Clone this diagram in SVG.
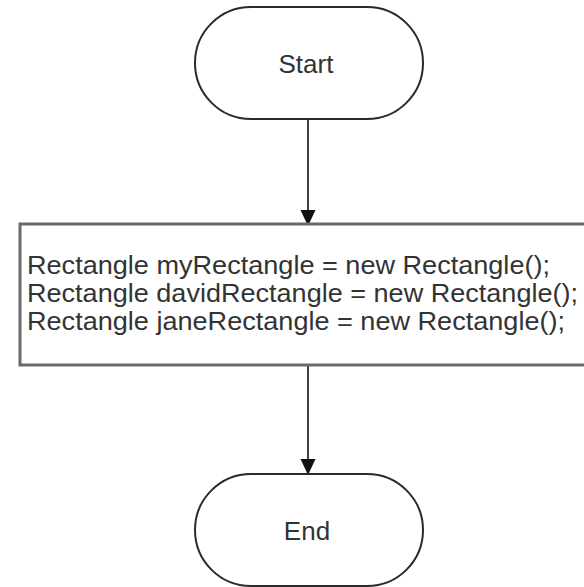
<svg xmlns="http://www.w3.org/2000/svg" width="584" height="587" viewBox="0 0 584 587">
  <style>
    .term { fill: #ffffff; stroke: #2a2a2a; stroke-width: 2; }
    .proc { fill: #ffffff; stroke: #6a6a6a; stroke-width: 3; }
    .label { font-family: "Liberation Sans", Arial, sans-serif; fill: #333333; }
    .term-label { font-size: 26px; }
    .code { font-size: 25px; }
    .edge { stroke: #111111; stroke-width: 1.6; fill: none; }
  </style>
  <defs>
    <marker id="arrow" markerWidth="16" markerHeight="16" refX="15" refY="7.5" orient="auto" markerUnits="userSpaceOnUse" viewBox="0 0 16 15">
      <path d="M0,0 L16,7.5 L0,15 Z" fill="#111111"/>
    </marker>
  </defs>
  <rect width="584" height="587" fill="#ffffff"/>

  <!-- connectors -->
  <g id="connectors">
    <line class="edge" x1="308" y1="119" x2="308" y2="225" marker-end="url(#arrow)"/>
    <line class="edge" x1="308" y1="366" x2="308" y2="474" marker-end="url(#arrow)"/>
  </g>

  <!-- start terminal -->
  <g id="start">
    <rect class="term" x="195" y="7" width="228" height="112" rx="56" ry="56"/>
    <text class="label term-label" x="306" y="73" text-anchor="middle">Start</text>
  </g>

  <!-- process block: object creation -->
  <g id="create-rectangles">
    <path class="proc" d="M590,224 H20 V365 H590"/>
    <text class="label code" x="27" y="274" textLength="523" lengthAdjust="spacingAndGlyphs">Rectangle myRectangle = new Rectangle();</text>
    <text class="label code" x="27" y="302" textLength="551" lengthAdjust="spacingAndGlyphs">Rectangle davidRectangle = new Rectangle();</text>
    <text class="label code" x="27" y="330" textLength="538" lengthAdjust="spacingAndGlyphs">Rectangle janeRectangle = new Rectangle();</text>
  </g>

  <!-- end terminal -->
  <g id="end">
    <rect class="term" x="195" y="474" width="228" height="112" rx="56" ry="56"/>
    <text class="label term-label" x="307" y="540" text-anchor="middle">End</text>
  </g>
</svg>
